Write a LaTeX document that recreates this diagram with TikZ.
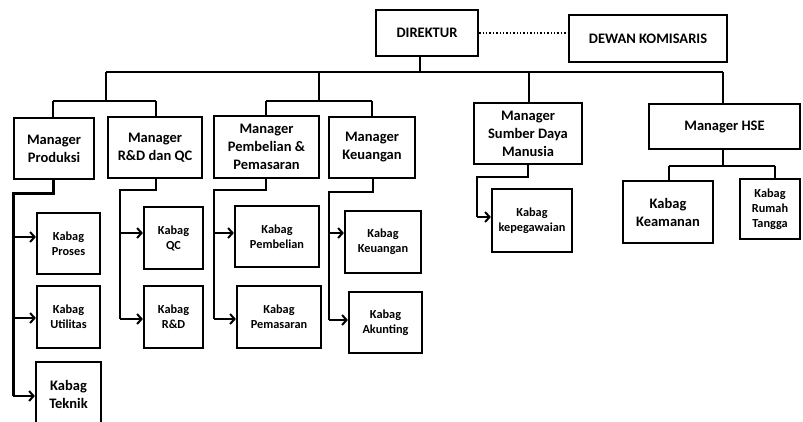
\documentclass[tikz,border=0pt]{standalone}
\usepackage{fontspec}
\setmainfont{Carlito}
\usetikzlibrary{arrows.meta}
\tikzset{
  box/.style={draw, line width=2.2pt, inner sep=1pt, align=center},
  mgr/.style={box, font=\bfseries\fontsize{14.5}{18}\selectfont},
  kab/.style={box, font=\bfseries\fontsize{12.3}{15}\selectfont},
  kabbig/.style={box, font=\bfseries\fontsize{14.5}{18}\selectfont},
  conn/.style={line width=2pt},
  thick conn/.style={line width=3pt},
  arr/.style={line width=2pt, -{Straight Barb[length=4.5pt,width=10pt,line width=2pt]}},
  dots/.style={dotted, line width=1.4pt}
}
\begin{document}
\begin{tikzpicture}[x=1pt,y=-1pt]
\useasboundingbox (0,0) rectangle (803,421);
\begin{scope}
\clip (0,0) rectangle (803,421);
% top
\node[box, font=\bfseries\fontsize{14.5}{17}\selectfont, minimum width=102pt, minimum height=46pt] (dir) at (427,33) {DIREKTUR};
\node[box, font=\bfseries\fontsize{14.5}{17}\selectfont, minimum width=158pt, minimum height=47pt] (dewan) at (648,38.5) {DEWAN KOMISARIS};
\draw[dots] (dir.east) -- (dir.east -| dewan.west);

% managers
\node[mgr, minimum width=80pt, minimum height=61pt] (mp) at (54,148.5) {Manager\\Produksi};
\node[mgr, minimum width=94pt, minimum height=61pt] (mr) at (155,147.5) {Manager\\R\&D dan QC};
\node[mgr, minimum width=105pt, minimum height=62pt] (mpb) at (266.5,147) {Manager\\Pembelian \&\\Pemasaran};
\node[mgr, minimum width=86pt, minimum height=61pt] (mk) at (372,147.5) {Manager\\Keuangan};
\node[mgr, minimum width=108pt, minimum height=61pt] (msdm) at (528,133.5) {Manager\\Sumber Daya\\Manusia};
\node[mgr, minimum width=151pt, minimum height=45pt] (mhse) at (724.5,126.5) {Manager HSE};

% kabag
\node[kab, minimum width=63pt, minimum height=61pt] (kproses) at (68.5,243.5) {Kabag\\Proses};
\node[kab, minimum width=63pt, minimum height=62pt] (kutil) at (68.5,317) {Kabag\\Utilitas};
\node[kabbig, minimum width=65pt, minimum height=64pt] (ktek) at (68.5,394) {Kabag\\Teknik};
\node[kab, minimum width=59pt, minimum height=62pt] (kqc) at (173.5,238) {Kabag\\QC};
\node[kab, minimum width=59pt, minimum height=62pt] (krd) at (173.5,317) {Kabag\\R\&D};
\node[kab, minimum width=84pt, minimum height=61pt] (kpb) at (277,236.5) {Kabag\\Pembelian};
\node[kab, minimum width=84pt, minimum height=62pt] (kpm) at (279,317) {Kabag\\Pemasaran};
\node[kab, minimum width=76pt, minimum height=62pt] (kku) at (383,242) {Kabag\\Keuangan};
\node[kab, minimum width=73pt, minimum height=61pt] (kak) at (385.5,322.5) {Kabag\\Akunting};
\node[kab, minimum width=80pt, minimum height=63pt] (kpg) at (532,220.5) {Kabag\\kepegawaian};
\node[kabbig, minimum width=90pt, minimum height=62pt] (kam) at (668,212) {Kabag\\Keamanan};
\node[kab, minimum width=60pt, minimum height=60pt] (krt) at (770,209) {Kabag\\Rumah\\Tangga};

% main tree
\coordinate (top) at (420,72);
\draw[conn] (dir.south -| top) -- (top);
\draw[conn] (106,72) -- (723,72);
\draw[conn] (106,72) -- (106,101);
\draw[conn] (53,101) -- (156,101);
\draw[conn] (53,101) -- (mp.north -| 53,0);
\draw[conn] (156,101) -- (mr.north -| 156,0);
\draw[conn] (319,72) -- (319,101);
\draw[conn] (266,101) -- (372,101);
\draw[conn] (266,101) -- (mpb.north -| 266,0);
\draw[conn] (372,101) -- (mk.north -| 372,0);
\draw[conn] (529,72) -- (msdm.north -| 529,0);
\draw[conn] (723,72) -- (mhse.north -| 723,0);

% produksi branch
\draw[thick conn] (mp.south -| 53,0) -- (53,193) -- (13,193) -- (13,396);
\draw[arr] (13,237) -- (kproses.west |- 0,237);
\draw[arr] (13,318) -- (kutil.west |- 0,318);
\draw[arr] (13,396) -- (ktek.west |- 0,396);

% R&D branch
\draw[conn] (mr.south -| 156,0) -- (156,190) -- (120,190) -- (120,319);
\draw[arr] (120,233) -- (kqc.west |- 0,233);
\draw[arr] (120,319) -- (krd.west |- 0,319);

% pembelian branch
\draw[conn] (mpb.south -| 266,0) -- (266,190) -- (214,190) -- (214,319);
\draw[arr] (214,233) -- (kpb.west |- 0,233);
\draw[arr] (214,319) -- (kpm.west |- 0,319);

% keuangan branch
\draw[conn] (mk.south -| 373,0) -- (373,192) -- (329,192) -- (329,320);
\draw[arr] (329,233) -- (kku.west |- 0,233);
\draw[arr] (329,320) -- (kak.west |- 0,320);

% sdm branch
\draw[conn] (msdm.south) -- (528,177) -- (477,177) -- (477,217);
\draw[arr] (477,217) -- (kpg.west |- 0,217);

% hse branch
\draw[conn] (mhse.south -| 723,0) -- (723,166);
\draw[conn] (669,166) -- (775,166);
\draw[conn] (669,166) -- (kam.north -| 669,0);
\draw[conn] (775,166) -- (krt.north -| 775,0);
\end{scope}
\end{tikzpicture}
\end{document}
